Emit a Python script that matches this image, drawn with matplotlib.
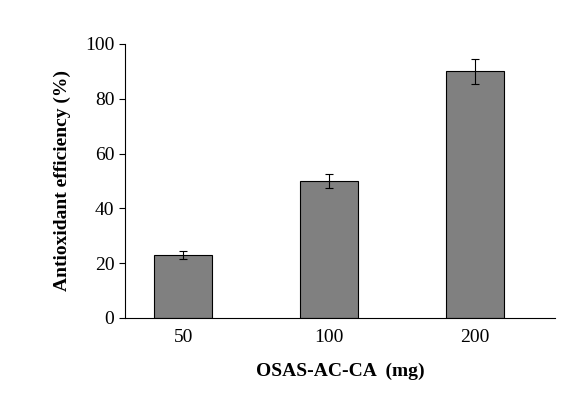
import matplotlib
matplotlib.use("Agg")
import matplotlib.pyplot as plt
import numpy as np

# data
doses = ["50", "100", "200"]
efficiency = [23, 50, 90]
errors = [1.5, 2.5, 4.5]

plt.rcParams['font.family'] = ['Liberation Serif', 'DejaVu Serif']

fig = plt.figure(figsize=(5.75, 4.15), dpi=100)
ax = fig.add_axes([0.217, 0.234, 0.748, 0.66])

x = np.arange(len(doses))
ax.bar(x, efficiency, width=0.4, color='#808080', edgecolor='black', linewidth=0.8,
       yerr=errors, capsize=3, error_kw={'elinewidth': 0.8, 'capthick': 0.8})

ax.set_xlim(-0.4, 2.55)
ax.set_ylim(0, 100)
ax.set_yticks(range(0, 101, 20))
ax.set_xticks(x)
ax.set_xticklabels(doses)
ax.tick_params(labelsize=14, length=4, direction='out')
ax.tick_params(axis='x', length=0, pad=8)
ax.spines['top'].set_visible(False)
ax.spines['right'].set_visible(False)

ax.set_xlabel('OSAS-AC-CA  (mg)', fontsize=14, fontweight='bold', labelpad=12)
ax.set_ylabel('Antioxidant efficiency (%)', fontsize=14, fontweight='bold', labelpad=10)

fig.savefig('out.png', dpi=100)
